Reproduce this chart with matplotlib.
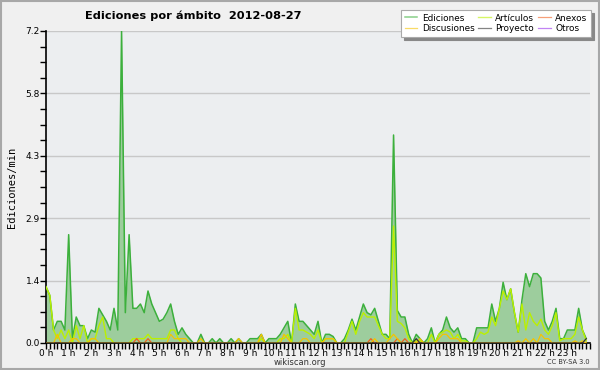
"""Edits per namespace over one day, wikiscan style."""

import matplotlib
matplotlib.use("Agg")
import matplotlib.pyplot as plt
from matplotlib.patches import Rectangle
from matplotlib.ticker import FixedLocator, MultipleLocator, FuncFormatter

title = "Ediciones por ámbito  2012-08-27"
ylabel = "Ediciones/min"

# one value every 10 minutes, 00:00 .. 23:50 (edits per minute)
ediciones = [
    1.3, 1.1, 0.3, 0.5, 0.5, 0.3, 2.5, 0.1, 0.6, 0.4, 0.4, 0.1,
    0.3, 0.25, 0.8, 0.65, 0.5, 0.3, 0.8, 0.3, 7.2, 0.7, 2.5, 0.8,
    0.8, 0.9, 0.7, 1.2, 0.9, 0.7, 0.5, 0.55, 0.7, 0.9, 0.5, 0.2,
    0.35, 0.2, 0.1, 0.0, 0.0, 0.2, 0.0, 0.0, 0.1, 0.0, 0.1, 0.0,
    0.0, 0.1, 0.0, 0.1, 0.0, 0.0, 0.1, 0.1, 0.1, 0.2, 0.0, 0.1,
    0.1, 0.1, 0.2, 0.35, 0.5, 0.0, 0.9, 0.5, 0.5, 0.4, 0.3, 0.2,
    0.5, 0.0, 0.2, 0.2, 0.15, 0.0, 0.0, 0.1, 0.3, 0.55, 0.3, 0.6,
    0.9, 0.7, 0.65, 0.8, 0.5, 0.2, 0.2, 0.1, 4.8, 0.75, 0.6, 0.6,
    0.2, 0.0, 0.2, 0.1, 0.0, 0.1, 0.35, 0.0, 0.2, 0.3, 0.6, 0.35,
    0.25, 0.35, 0.1, 0.1, 0.0, 0.0, 0.35, 0.35, 0.35, 0.35, 0.9, 0.5,
    0.8, 1.4, 1.0, 1.25, 0.7, 0.25, 1.0, 1.6, 1.3, 1.6, 1.6, 1.5,
    0.5, 0.3, 0.5, 0.8, 0.1, 0.1, 0.3, 0.3, 0.3, 0.8, 0.3, 0.1,
]
articulos = [
    1.3, 1.1, 0.3, 0.1, 0.3, 0.1, 0.3, 0.0, 0.4, 0.1, 0.4, 0.0,
    0.1, 0.1, 0.4, 0.6, 0.1, 0.1, 0.0, 0.0, 0.0, 0.0, 0.0, 0.1,
    0.1, 0.1, 0.1, 0.2, 0.1, 0.1, 0.1, 0.1, 0.1, 0.3, 0.3, 0.1,
    0.0, 0.0, 0.0, 0.0, 0.0, 0.0, 0.0, 0.0, 0.0, 0.0, 0.0, 0.0,
    0.0, 0.0, 0.0, 0.0, 0.0, 0.0, 0.0, 0.0, 0.0, 0.1, 0.0, 0.0,
    0.0, 0.0, 0.1, 0.1, 0.2, 0.0, 0.8, 0.3, 0.3, 0.25, 0.2, 0.1,
    0.3, 0.0, 0.1, 0.1, 0.1, 0.0, 0.0, 0.0, 0.25, 0.5, 0.2, 0.5,
    0.7, 0.6, 0.6, 0.6, 0.4, 0.2, 0.1, 0.1, 2.7, 0.5, 0.45, 0.35,
    0.1, 0.0, 0.05, 0.05, 0.0, 0.0, 0.2, 0.0, 0.2, 0.25, 0.3, 0.25,
    0.1, 0.2, 0.05, 0.05, 0.0, 0.0, 0.1, 0.25, 0.2, 0.25, 0.6, 0.4,
    0.8, 1.2, 1.0, 1.25, 0.7, 0.25, 0.9, 0.3, 0.7, 0.5, 0.4, 0.55,
    0.3, 0.2, 0.4, 0.7, 0.05, 0.1, 0.1, 0.1, 0.2, 0.6, 0.3, 0.05,
]
discusiones = [
    0.0, 0.0, 0.0, 0.2, 0.0, 0.0, 0.0, 0.1, 0.1, 0.0, 0.0, 0.0,
    0.1, 0.1, 0.0, 0.0, 0.0, 0.0, 0.0, 0.0, 0.0, 0.0, 0.0, 0.0,
    0.0, 0.0, 0.0, 0.0, 0.0, 0.0, 0.0, 0.0, 0.0, 0.2, 0.1, 0.1,
    0.1, 0.1, 0.0, 0.0, 0.0, 0.1, 0.0, 0.0, 0.0, 0.0, 0.0, 0.0,
    0.0, 0.0, 0.0, 0.1, 0.0, 0.0, 0.0, 0.0, 0.0, 0.2, 0.0, 0.0,
    0.0, 0.0, 0.0, 0.2, 0.1, 0.0, 0.0, 0.0, 0.1, 0.1, 0.0, 0.0,
    0.0, 0.0, 0.1, 0.1, 0.1, 0.0, 0.0, 0.0, 0.0, 0.0, 0.0, 0.0,
    0.0, 0.0, 0.0, 0.1, 0.0, 0.0, 0.0, 0.1, 0.2, 0.1, 0.0, 0.0,
    0.0, 0.0, 0.0, 0.1, 0.0, 0.0, 0.0, 0.0, 0.1, 0.2, 0.2, 0.1,
    0.1, 0.1, 0.0, 0.0, 0.0, 0.0, 0.0, 0.0, 0.0, 0.0, 0.0, 0.0,
    0.0, 0.0, 0.0, 0.0, 0.0, 0.05, 0.0, 0.1, 0.0, 0.1, 0.0, 0.2,
    0.1, 0.1, 0.0, 0.0, 0.0, 0.0, 0.0, 0.0, 0.05, 0.0, 0.05, 0.0,
]
anexos = [0.0] * 144
for i in (24, 27, 86, 93, 95):
    anexos[i] = 0.1
proyecto = [0.0] * 144
for i in (98, 143):
    proyecto[i] = 0.1
otros = [0.0] * 144

hours = [i / 6 for i in range(len(ediciones))]
hour_labels = [f"{h} h" for h in range(24)]

fig = plt.figure(figsize=(6, 3.7), dpi=100, facecolor="#f0f0f0")
fig.patches.append(Rectangle((0.0015, 0.0025), 0.997, 0.995, transform=fig.transFigure,
                             fill=False, edgecolor="#a8a8a8", linewidth=1.5))
ax = fig.add_axes([46 / 600, 27 / 370, 544 / 600, 312 / 370])
ax.set_facecolor("#eceef0")

ax.fill_between(hours, ediciones, color="#9dcd9d", linewidth=0, zorder=2)
ax.plot(hours, ediciones, color="#3cb03c", lw=1.1, zorder=3, label="Ediciones")
ax.plot(hours, articulos, color="#bbf000", lw=1.0, zorder=4, label="Artículos")
ax.plot(hours, anexos, color="#f06020", lw=0.9, zorder=5, label="Anexos")
ax.plot(hours, discusiones, color="#f5c400", lw=0.9, zorder=5, label="Discusiones")
ax.plot(hours, proyecto, color="#333333", lw=0.9, zorder=5, label="Proyecto")
ax.plot(hours, otros, color="#9933ee", lw=0.9, zorder=1, label="Otros")

ax.set_xlim(0, 24)
ax.set_ylim(0, 7.2)
ax.yaxis.set_major_locator(FixedLocator([7.2 * k / 5 for k in range(6)]))
ax.yaxis.set_minor_locator(MultipleLocator(0.36))
ax.yaxis.set_major_formatter(FuncFormatter(lambda v, _: f"{v:.1f}"))
ax.xaxis.set_major_locator(FixedLocator(range(24)))
ax.set_xticklabels(hour_labels)
ax.xaxis.set_minor_locator(MultipleLocator(1 / 6))
ax.tick_params(which="both", length=4, width=1, colors="black", labelsize=6.5, pad=0.5)
ax.tick_params(axis="x", which="both", direction="out", pad=0)
ax.grid(axis="y", which="major", color="#c8c8c8", linewidth=1, zorder=0)
ax.set_axisbelow(True)
for side in ("top", "right"):
    ax.spines[side].set_visible(False)
for side in ("left", "bottom"):
    ax.spines[side].set_linewidth(1.2)
ax.set_ylabel(ylabel, family="DejaVu Sans Mono", fontsize=7.5, labelpad=6)

fig.text(85 / 600, 1 - 16 / 370, title, fontsize=8.2, fontweight="bold", va="center", ha="left")
fig.text(300 / 600, 1 - 362.5 / 370, "wikiscan.org", fontsize=6, ha="center", va="center", color="#333333")
fig.text(590 / 600, 1 - 362.5 / 370, "CC BY-SA 3.0", fontsize=4.8, ha="right", va="center", color="#333333")

handles, labels = ax.get_legend_handles_labels()
order = [0, 3, 1, 4, 2, 5]
leg = ax.legend([handles[i] for i in order], [labels[i] for i in order], ncol=3,
                loc="upper right", bbox_to_anchor=(591 / 600, 1 - 10 / 370),
                bbox_transform=fig.transFigure, fontsize=6.4, frameon=True, fancybox=False,
                shadow={"color": "#888888", "alpha": 1}, borderpad=0.4, handlelength=1.4,
                handletextpad=0.5, columnspacing=0.45, labelspacing=0.2, borderaxespad=0)
leg.get_frame().set_edgecolor("#aaaaaa")
leg.get_frame().set_linewidth(0.8)
for line in leg.get_lines():
    line.set_alpha(0.6)

fig.savefig("out.png", dpi=100, facecolor=fig.get_facecolor())
